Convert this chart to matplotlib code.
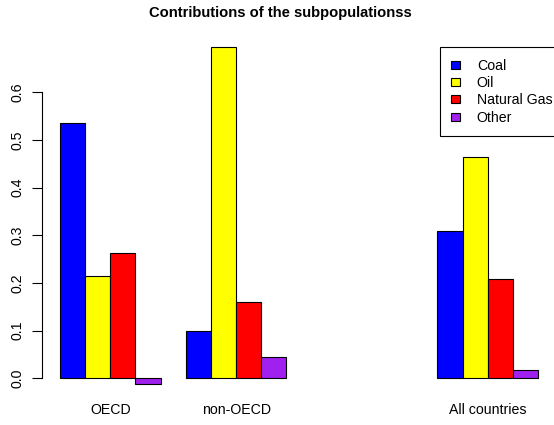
import numpy as np
import matplotlib.pyplot as plt

plt.rcParams['font.family'] = ['Liberation Sans', 'DejaVu Sans']

# groups (third group is an empty slot, as in the original barplot)
regions = ["OECD", "non-OECD", "", "All countries"]
fuels = ["Coal", "Oil", "Natural Gas", "Other"]
colors = ["#0000FF", "#FFFF00", "#FF0000", "#A020F0"]

coal = [0.536, 0.100, np.nan, 0.308]
oil = [0.215, 0.695, np.nan, 0.464]
gas = [0.263, 0.161, np.nan, 0.208]
other = [-0.012, 0.045, np.nan, 0.017]
series = [coal, oil, gas, other]

W, H = 554, 425
fig = plt.figure(figsize=(W / 100, H / 100), dpi=100)
ax = fig.add_axes([41.5 / W, (H - 397.5) / H, (W - 41.5) / W, 364 / H])

n_f = len(fuels)
group_w = n_f + 1
handles = []
for k, (vals, col, name) in enumerate(zip(series, colors, fuels)):
    xs, hs = [], []
    for g, v in enumerate(vals):
        if not np.isnan(v):
            xs.append(1 + g * group_w + k)
            hs.append(v)
    b = ax.bar(xs, hs, width=1, align='edge', color=col,
               edgecolor='black', linewidth=0.8, label=name)
    handles.append(b)

ax.set_xlim(0.265, 20.63)
ax.set_ylim(-0.0403, 0.7233)

for s in ['top', 'right', 'bottom']:
    ax.spines[s].set_visible(False)
ax.spines['left'].set_bounds(0, 0.6)
ax.spines['left'].set_linewidth(0.8)

yt = np.arange(0, 0.61, 0.1)
ax.set_yticks(yt)
ax.set_yticklabels([f"{v:.1f}" for v in yt], rotation=90, va='center')
ax.tick_params(axis='y', length=7, width=0.8, pad=5.5, labelsize=10.2)

centers = [1 + g * group_w + n_f / 2 for g in range(len(regions))]
ax.set_xticks(centers)
ax.set_xticklabels(regions)
ax.tick_params(axis='x', length=0, pad=4, labelsize=10.2)

fig.text(280 / W, 1 - 13 / H, "Contributions of the subpopulationss",
         ha='center', va='center', fontweight='bold', fontsize=10.6)

leg = ax.legend(handles=handles, loc='upper left',
                bbox_to_anchor=(440 / W, 1 - 47.3 / H),
                bbox_transform=fig.transFigure, borderaxespad=0,
                fontsize=10.2, fancybox=False, framealpha=1,
                handlelength=0.6, handleheight=0.5, handletextpad=1.2,
                borderpad=0.8, labelspacing=0.24)
leg.get_frame().set_edgecolor('black')
leg.get_frame().set_linewidth(0.8)

fig.savefig('out.png', dpi=100)
